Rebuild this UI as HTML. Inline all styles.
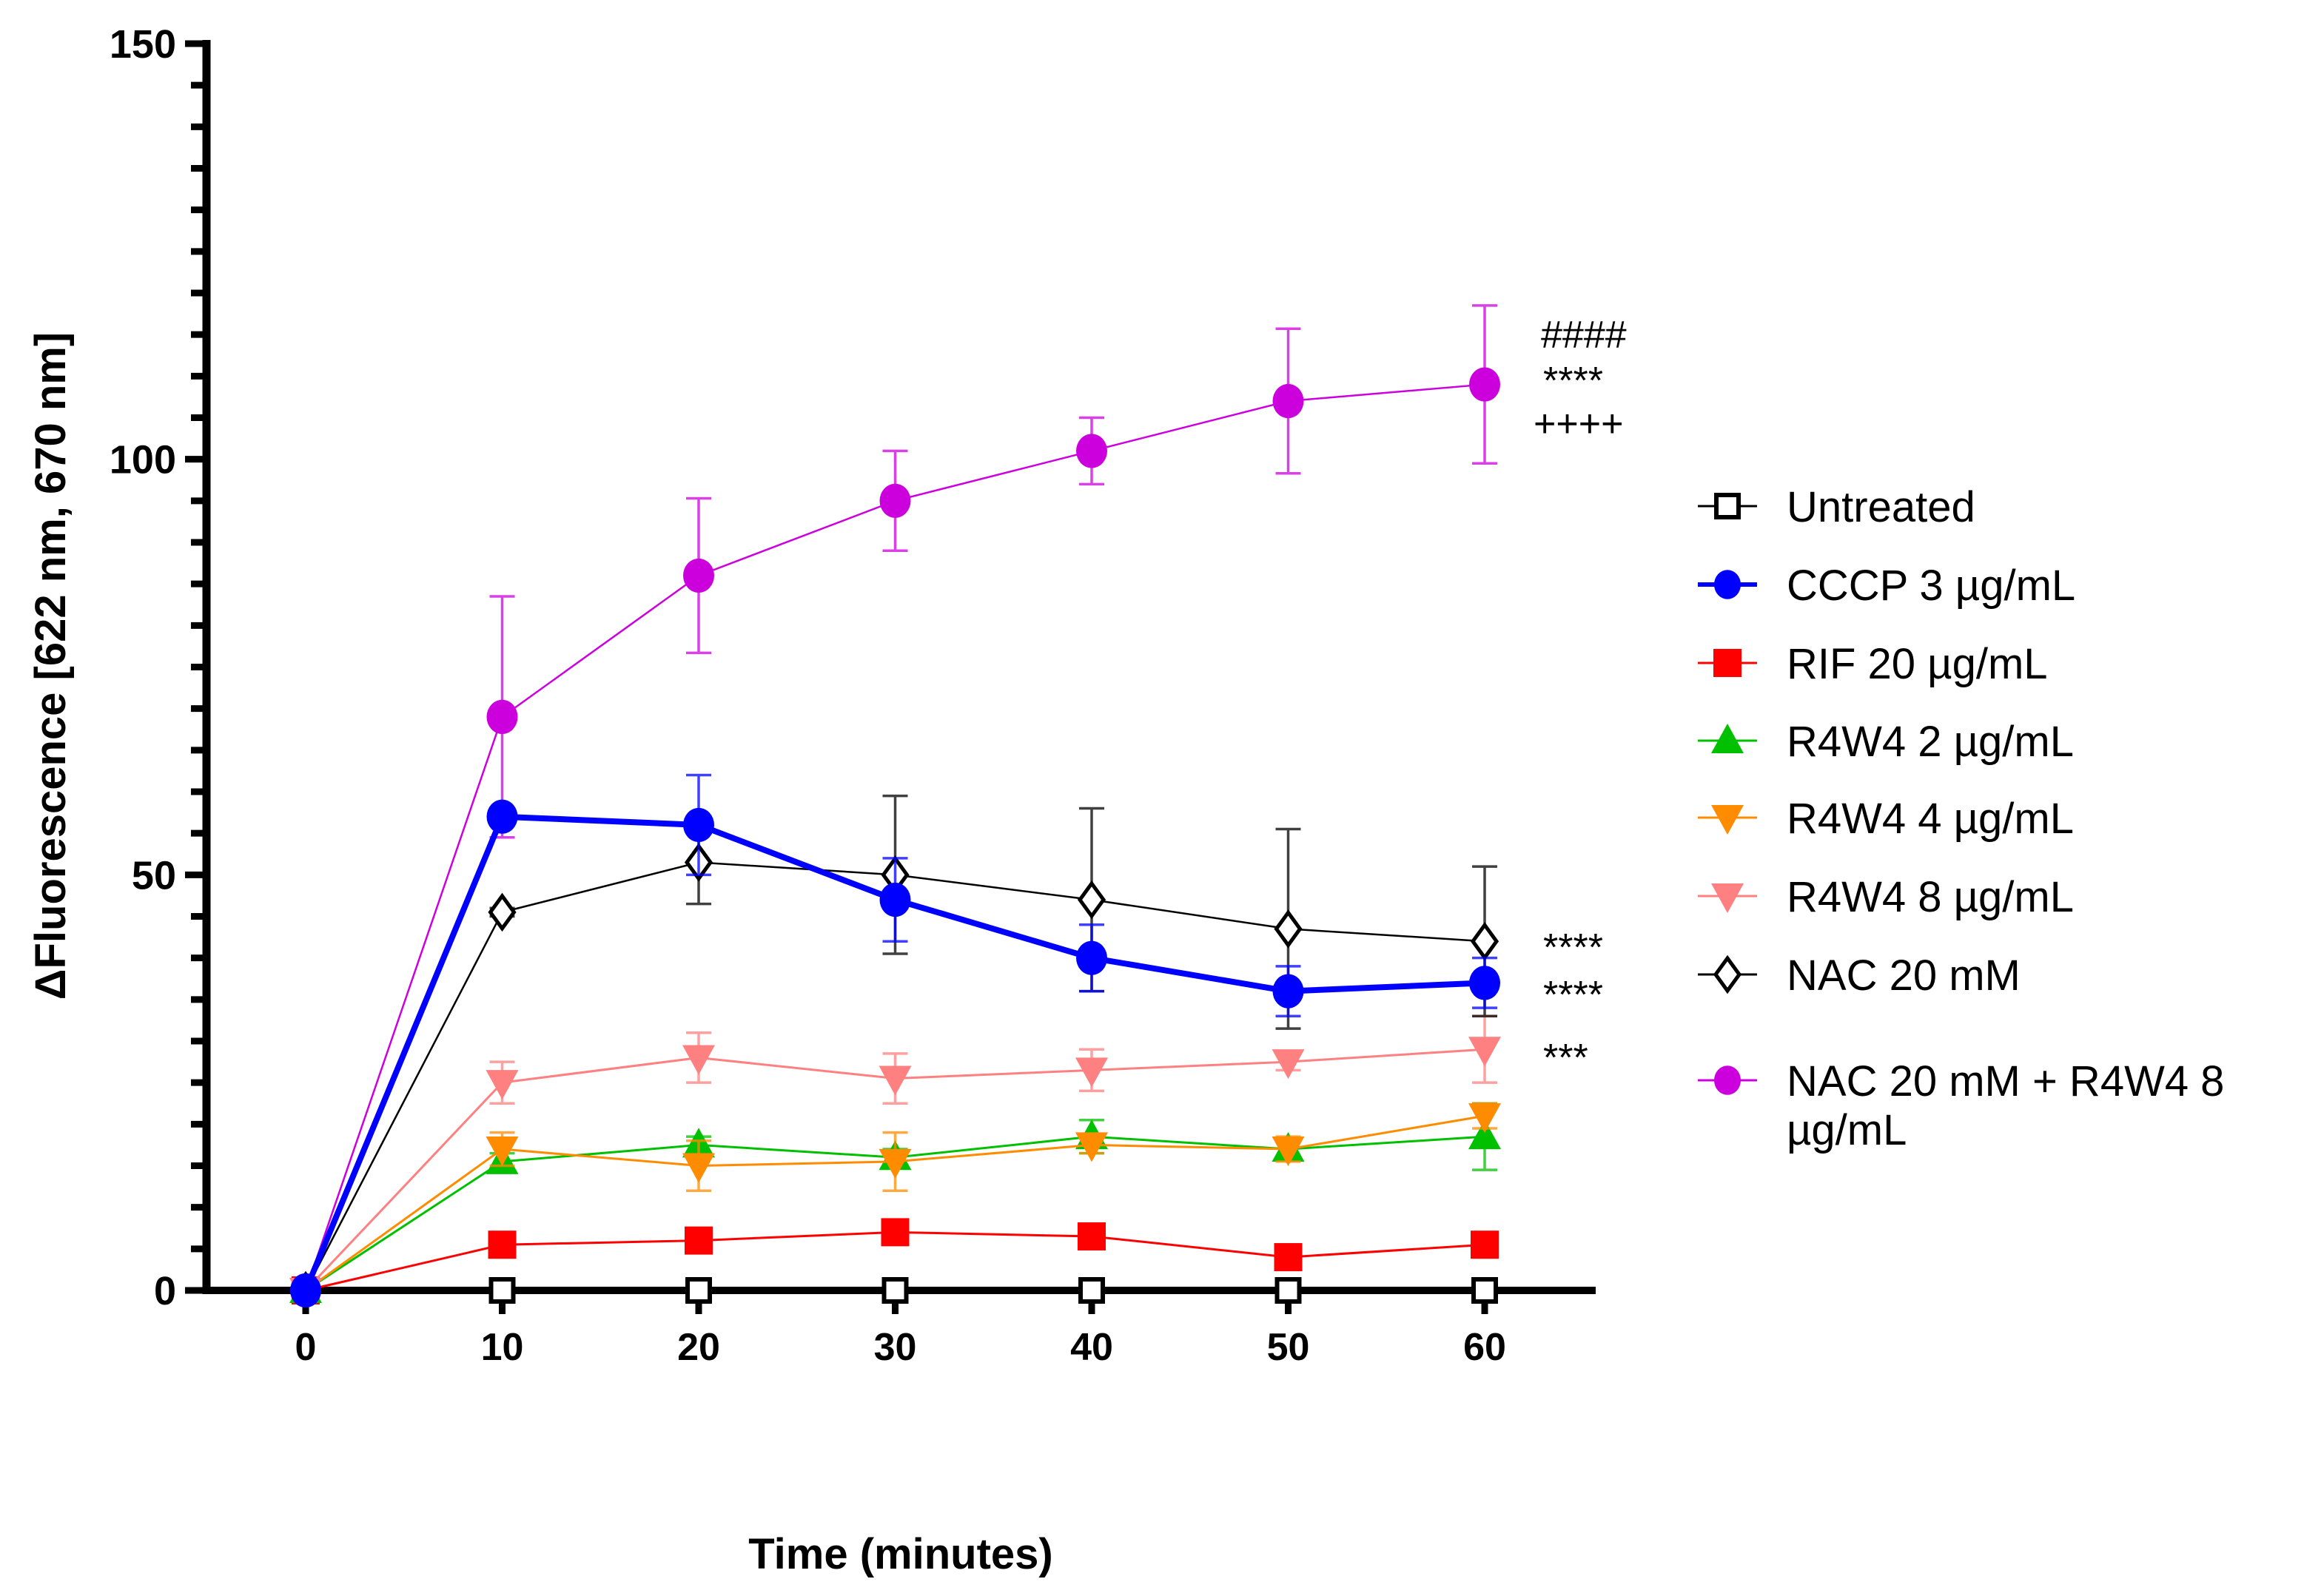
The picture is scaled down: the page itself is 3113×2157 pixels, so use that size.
<!DOCTYPE html>
<html><head><meta charset="utf-8"><style>
html,body{margin:0;padding:0;background:#fff}
svg{display:block;font-family:"Liberation Sans",Arial,sans-serif}
</style></head><body>
<svg id="chart" width="3113" height="2157" viewBox="0 0 3113 2157" xmlns="http://www.w3.org/2000/svg">
<rect width="3113" height="2157" fill="#fff"/>
<g id="axes"></g>
<g id="series"></g>
<g id="legend"></g>
<text x="0" y="0" transform="translate(88,900) rotate(-90)" text-anchor="middle" font-size="58" font-weight="bold">ΔFluorescence [622 nm, 670 nm]</text>
<text x="1217" y="2120" text-anchor="middle" font-size="58" font-weight="bold">Time (minutes)</text>
<g font-size="52" fill="#000">
<text x="2082" y="470">####</text>
<text x="2085" y="532">****</text>
<text x="2072" y="590">++++</text>
<text x="2085" y="1298">****</text>
<text x="2085" y="1362">****</text>
<text x="2085" y="1447">***</text>
</g>
</svg>
<script>
const times = [0,10,20,30,40,50,60];
const xTicks = [0,10,20,30,40,50,60];
const yTicks = [0,50,100,150];
const seriesNames = ["Untreated","CCCP 3 µg/mL","RIF 20  µg/mL","R4W4 2 µg/mL","R4W4 4 µg/mL","R4W4 8 µg/mL","NAC 20 mM","NAC 20 mM + R4W4 8 µg/mL"];
const untreatedVals = [0,0,0,0,0,0,0];
const untreatedErr = [0,0,0,0,0,0,0];
const cccpVals = [0,57,56,47,40,36,37];
const cccpErr = [0,1,6,5,4,3,3];
const rifVals = [0,5.5,6,7,6.5,4,5.5];
const rifErr = [0,1.5,1,1.5,1,1,1];
const r2Vals = [0,15.5,17.5,16,18.5,17,18.5];
const r2Err = [0,1,1,1,2,1,4];
const r4Vals = [0,17,15,15.5,17.5,17,21];
const r4Err = [0,2,3,3.5,1,1.5,1.5];
const r8Vals = [0,25,28,25.5,26.5,27.5,29];
const r8Err = [0,2.5,3,3,2.5,1,4];
const nacVals = [0,45.5,51.5,50,47,43.5,42];
const nacErr = [0,0.5,5,9.5,11,12,9];
const nacR8Vals = [0,69,86,95,101,107,109];
const nacR8Err = [0,14.5,9.3,6,4,8.7,9.5];

const NS="http://www.w3.org/2000/svg";
const X0=413, XPER=26.55, Y0=1744, YPER=(1744-59)/150;
function sx(t){return X0+t*XPER;}
function sy(v){return Y0-v*YPER;}
function mk(tag,attrs,parent){const e=document.createElementNS(NS,tag);for(const k in attrs)e.setAttribute(k,attrs[k]);parent.appendChild(e);return e;}

const axes=document.getElementById('axes');
let yl=mk('line',{x1:279,y1:sy(150)-5,x2:279,y2:Y0+5,stroke:'#000','stroke-width':11},axes);


for(let v=0;v<=150;v+=5){
  const major=v%50===0;
  const t=mk('line',{x1:major?250:258,y1:sy(v),x2:279,y2:sy(v),stroke:'#000','stroke-width':9},axes);
  
  
}
yTicks.forEach(v=>{
  const t=mk('text',{x:238,y:sy(v)+19,'text-anchor':'end','font-size':54,'font-weight':'bold'},axes);
  t.textContent=v;
  
  
});
let xl=mk('line',{x1:274,y1:Y0,x2:2156,y2:Y0,stroke:'#000','stroke-width':10},axes);


xTicks.forEach(v=>{
  const tk=mk('line',{x1:sx(v),y1:Y0,x2:sx(v),y2:Y0+32,stroke:'#000','stroke-width':9},axes);
  
  
  const t=mk('text',{x:sx(v),y:1838,'text-anchor':'middle','font-size':52,'font-weight':'bold'},axes);
  t.textContent=v;
  
  
});

function marker(shape,cx,cy,color,parent,r){
  r=r||21;
  let e;
  if(shape==='square-open') e=mk('rect',{x:cx-15,y:cy-15,width:30,height:30,fill:'#fff',stroke:'#000','stroke-width':6},parent);
  else if(shape==='square') e=mk('rect',{x:cx-19,y:cy-19,width:38,height:38,fill:color},parent);
  else if(shape==='circle') e=mk('ellipse',{cx:cx,cy:cy,rx:r,ry:r*1.1,fill:color},parent);
  else if(shape==='up') e=mk('polygon',{points:`${cx},${cy-23} ${cx-22},${cy+17} ${cx+22},${cy+17}`,fill:color},parent);
  else if(shape==='down') e=mk('polygon',{points:`${cx},${cy+23} ${cx-22},${cy-17} ${cx+22},${cy-17}`,fill:color},parent);
  else if(shape==='diamond') e=mk('polygon',{points:`${cx},${cy-22} ${cx+16},${cy} ${cx},${cy+22} ${cx-16},${cy}`,fill:'#fff',stroke:color,'stroke-width':5},parent);
  return e;
}

const defs=[
  {vals:untreatedVals,err:untreatedErr,color:'#000',shape:'square-open',w:3,name:'untreated'},
  {vals:rifVals,err:rifErr,color:'#ff0000',shape:'square',w:3,name:'rif-20'},
  {vals:r2Vals,err:r2Err,color:'#00c000',shape:'up',w:3,name:'r4w4-2'},
  {vals:r4Vals,err:r4Err,color:'#ff8c00',shape:'down',w:3,name:'r4w4-4'},
  {vals:r8Vals,err:r8Err,color:'#ff8080',shape:'down',w:3,name:'r4w4-8'},
  {vals:nacVals,err:nacErr,color:'#000',shape:'diamond',w:2.5,name:'nac-20'},
  {vals:nacR8Vals,err:nacR8Err,color:'#cc00dd',shape:'circle',w:2.5,name:'nac-r4w4-8'},
  {vals:cccpVals,err:cccpErr,color:'#0000ff',shape:'circle',w:8,name:'cccp-3'}
];
const sg=document.getElementById('series');
defs.forEach(d=>{
  const g=mk('g',{},sg);
  
  
  times.forEach((t,i)=>{
    if(d.err[i]>0){
      const x=sx(t),hi=sy(d.vals[i]+d.err[i]),lo=sy(d.vals[i]-d.err[i]);
      const eb=mk('path',{d:`M${x},${hi}V${lo}M${x-17},${hi}H${x+17}M${x-17},${lo}H${x+17}`,stroke:d.color,'stroke-width':3.5,fill:'none',opacity:0.75},g);
      
      
    }
  });
  const pts=times.map((t,i)=>sx(t)+','+sy(d.vals[i])).join(' ');
  const pl=mk('polyline',{points:pts,fill:'none',stroke:d.color,'stroke-width':d.w},g);
  
  
  times.forEach((t,i)=>{
    const m=marker(d.shape,sx(t),sy(d.vals[i]),d.color,g);
    
    
  });
});

const legendDefs=[
  {color:'#000',shape:'square-open',w:3},
  {color:'#0000ff',shape:'circle',w:6},
  {color:'#ff0000',shape:'square',w:3},
  {color:'#00c000',shape:'up',w:3},
  {color:'#ff8c00',shape:'down',w:3},
  {color:'#ff8080',shape:'down',w:3},
  {color:'#000',shape:'diamond',w:3},
  {color:'#cc00dd',shape:'circle',w:3}
];
const legendY=[684,790,896,1001,1105,1211,1317,1460];
const lg=document.getElementById('legend');
seriesNames.forEach((n,i)=>{
  const g=mk('g',{},lg);
  
  
  const y=legendY[i], ld=legendDefs[i];
  mk('line',{x1:2294,y1:y,x2:2374,y2:y,stroke:ld.color,'stroke-width':ld.w},g);
  marker(ld.shape,2334,y,ld.color,g,18);
  if(i===7){
    const t=mk('text',{x:2414,y:y+21,'font-size':58},g);
    t.textContent='NAC 20 mM + R4W4 8';
    const t2=mk('text',{x:2414,y:y+87,'font-size':58},g);
    t2.textContent='µg/mL';
  } else {
    const t=mk('text',{x:2414,y:y+21,'font-size':58},g);
    t.textContent=n;
  }
});
</script>
</body></html>
